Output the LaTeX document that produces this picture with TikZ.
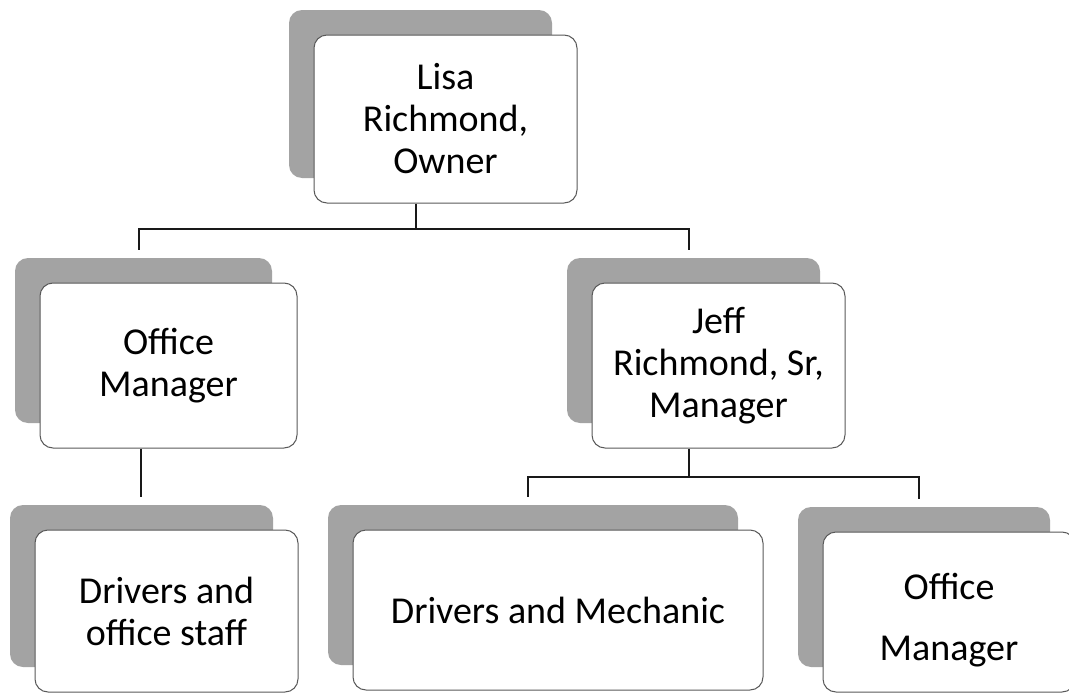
\documentclass[tikz,border=0pt]{standalone}
\usepackage{fontspec}
\setmainfont{Carlito}
\newcommand\orgbox[6]{%
  \node[shadebox, minimum width=#4pt, minimum height=#5pt] (#1s) at ({#2-25},{#3-25}) {};
  \node[orgnode, minimum width=#4pt, minimum height=#5pt] (#1) at (#2,#3) {#6};}
\begin{document}
\begin{tikzpicture}[x=1pt,y=-1pt,
  orgnode/.style={draw=black!65, line width=1pt, fill=white, rounded corners=13pt,
    align=center, inner sep=0pt, font=\fontsize{38}{42}\selectfont},
  shadebox/.style={fill=black!36, rounded corners=13pt, inner sep=0pt},
  conn/.style={draw=black!90, line width=2pt}]
\useasboundingbox (0,0) rectangle (1069,696);
\clip (0,0) rectangle (1069,696);

% boxes
\orgbox{owner}{445.5}{119}{263}{168}{Lisa\\Richmond,\\Owner}
\orgbox{omA}{168.5}{365.5}{257}{165}{Office\\Manager}
\orgbox{jeff}{718.5}{365.5}{253}{165}{Jeff\\Richmond, Sr,\\Manager}
\orgbox{dos}{166.5}{611}{263}{162}{Drivers and\\office staff}
\orgbox{dm}{558}{610}{410}{160}{Drivers and Mechanic}
\orgbox{omB}{949}{612}{252}{160}{\rule{0pt}{43pt}Office\\[19pt]Manager}

% connectors: owner level
\coordinate (o1) at ([xshift=-30pt]owner.south);
\coordinate (a1) at ([xshift=-30pt,yshift=33pt]omA.north);
\coordinate (b1) at ([xshift=-30pt,yshift=33pt]jeff.north);
\draw[conn] (o1) -- ++(0,25) coordinate (bus1);
\draw[conn] (a1) |- (bus1) -| (b1);

% office manager -> drivers and office staff
\coordinate (a2) at ([xshift=-28pt]omA.south);
\coordinate (d1) at ([yshift=33pt]dos.north);
\draw[conn] (a2) -- (a2 |- d1);

% jeff level
\coordinate (j2) at ([xshift=-30pt]jeff.south);
\coordinate (m1) at ([xshift=-30pt,yshift=33pt]dm.north);
\coordinate (n1) at ([xshift=-30pt,yshift=33pt]omB.north);
\draw[conn] (j2) -- ++(0,28) coordinate (bus2);
\draw[conn] (m1) |- (bus2) -| (n1);
\end{tikzpicture}
\end{document}
